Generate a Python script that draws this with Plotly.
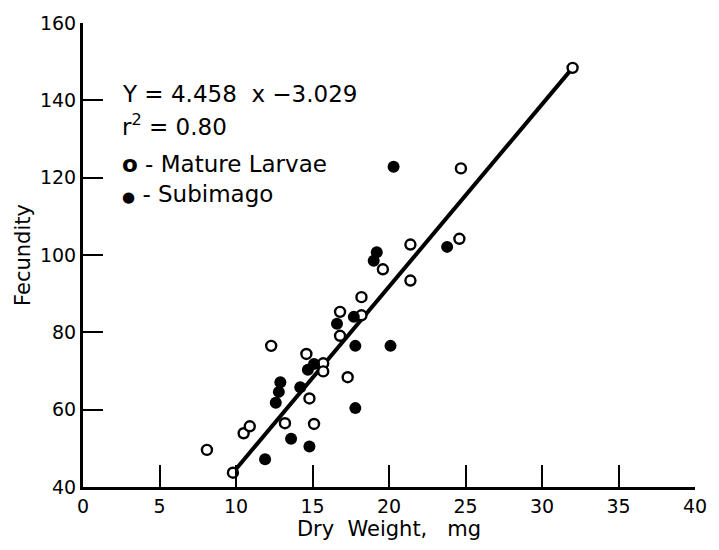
import plotly.graph_objects as go

# Mature Larvae (open circles)
larvae_x = [8.1, 9.8, 10.5, 10.9, 13.2, 15.1, 14.8, 12.3, 14.6, 15.7, 15.7, 17.3,
            16.8, 16.8, 18.2, 18.2, 19.6, 21.4, 21.4, 24.6, 24.7, 32.0]
larvae_y = [49.6, 43.7, 53.9, 55.7, 56.5, 56.3, 62.9, 76.5, 74.4, 72.0, 69.9, 68.4,
            79.1, 85.3, 84.4, 89.1, 96.3, 93.4, 102.7, 104.2, 122.4, 148.4]

# Subimago (filled circles)
sub_x = [11.9, 13.6, 14.8, 12.6, 12.8, 12.9, 14.2, 14.7, 15.1, 17.8, 17.8, 20.1,
         16.6, 17.7, 19.0, 19.2, 23.8, 20.3]
sub_y = [47.2, 52.5, 50.5, 61.8, 64.6, 67.1, 65.8, 70.3, 71.8, 60.4, 76.5, 76.5,
         82.2, 84.0, 98.5, 100.7, 102.1, 122.8]

# regression line as drawn
reg_x = [9.8, 32.0]
reg_y = [43.7, 148.4]

x_ticks = [0, 5, 10, 15, 20, 25, 30, 35, 40]
y_ticks = [40, 60, 80, 100, 120, 140, 160]

FONT = "DejaVu Sans"
NB = "\u00a0"

fig = go.Figure()
fig.add_trace(go.Scatter(x=reg_x, y=reg_y, mode="lines",
                         line=dict(color="black", width=4), showlegend=False))
fig.add_trace(go.Scatter(x=larvae_x, y=larvae_y, mode="markers",
                         marker=dict(symbol="circle", size=10, color="white",
                                     line=dict(color="black", width=2.4)),
                         showlegend=False))
fig.add_trace(go.Scatter(x=sub_x, y=sub_y, mode="markers",
                         marker=dict(symbol="circle", size=12, color="black",
                                     line=dict(color="black", width=0)),
                         showlegend=False))

texts = [
    ("Y = 4.458" + NB * 2 + "x" + NB + "−3.029", 2.4, 141.6),
    ("r<sup>2</sup> = 0.80", 2.4, 133.6),
    ("<b>o</b> - Mature Larvae", 2.4, 123.6),
    ("<span style='font-size:15px'>●</span> - Subimago", 2.4, 115.8),
]
for t, xx, yy in texts:
    fig.add_annotation(x=xx, y=yy, text=t, showarrow=False, xanchor="left",
                       yanchor="middle", font=dict(family=FONT, size=23, color="black"))

fig.update_layout(
    width=719, height=550,
    margin=dict(l=83, r=15, t=16, b=63),
    paper_bgcolor="white", plot_bgcolor="white",
    font=dict(family=FONT, size=19, color="black"),
    xaxis=dict(range=[0, 40], tickvals=x_ticks, ticktext=[str(v) for v in x_ticks],
               ticks="inside", ticklen=22, tickwidth=2, tickcolor="black",
               showline=True, linewidth=3, linecolor="black",
               showgrid=False, zeroline=False,
               tickfont=dict(family=FONT, size=19),
               title=dict(text="Dry" + NB * 2 + "Weight," + NB * 3 + "mg",
                          font=dict(family=FONT, size=21), standoff=2)),
    yaxis=dict(range=[40, 160], tickvals=y_ticks, ticktext=[str(v) for v in y_ticks],
               ticks="inside", ticklen=20, tickwidth=2, tickcolor="black",
               showline=True, linewidth=3, linecolor="black",
               showgrid=False, zeroline=False,
               tickfont=dict(family=FONT, size=19),
               title=dict(text="Fecundity", font=dict(family=FONT, size=21), standoff=4)),
)

fig.write_html("out.html")
